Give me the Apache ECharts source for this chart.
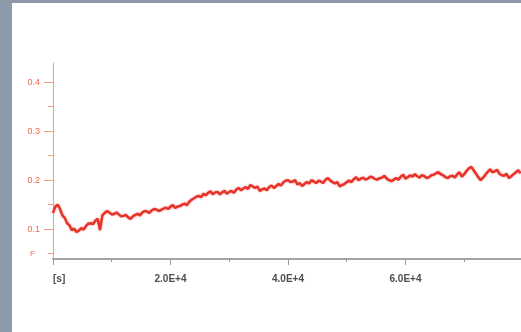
<!DOCTYPE html>
<html>
<head>
<meta charset="utf-8">
<script src="https://cdn.jsdelivr.net/npm/echarts@6/dist/echarts.min.js"></script>
<style>
  html, body { margin: 0; padding: 0; width: 521px; height: 332px; background: #8b99a8; overflow: hidden; }
  #chart { position: absolute; left: 12px; top: 3px; width: 509px; height: 329px; background: #ffffff; }
</style>
</head>
<body>
<div id="chart"></div>
<script>
// Force trace over time, sampled every 400 s
const timeSec = [
  0, 400, 800, 1200, 1600, 2000, 2400, 2800, 3200, 3600,
  4000, 4400, 4800, 5200, 5600, 6000, 6400, 6800, 7200, 7600,
  8000, 8400, 8800, 9200, 9600, 10000, 10400, 10800, 11200, 11600,
  12000, 12400, 12800, 13200, 13600, 14000, 14400, 14800, 15200, 15600,
  16000, 16400, 16800, 17200, 17600, 18000, 18400, 18800, 19200, 19600,
  20000, 20400, 20800, 21200, 21600, 22000, 22400, 22800, 23200, 23600,
  24000, 24400, 24800, 25200, 25600, 26000, 26400, 26800, 27200, 27600,
  28000, 28400, 28800, 29200, 29600, 30000, 30400, 30800, 31200, 31600,
  32000, 32400, 32800, 33200, 33600, 34000, 34400, 34800, 35200, 35600,
  36000, 36400, 36800, 37200, 37600, 38000, 38400, 38800, 39200, 39600,
  40000, 40400, 40800, 41200, 41600, 42000, 42400, 42800, 43200, 43600,
  44000, 44400, 44800, 45200, 45600, 46000, 46400, 46800, 47200, 47600,
  48000, 48400, 48800, 49200, 49600, 50000, 50400, 50800, 51200, 51600,
  52000, 52400, 52800, 53200, 53600, 54000, 54400, 54800, 55200, 55600,
  56000, 56400, 56800, 57200, 57600, 58000, 58400, 58800, 59200, 59600,
  60000, 60400, 60800, 61200, 61600, 62000, 62400, 62800, 63200, 63600,
  64000, 64400, 64800, 65200, 65600, 66000, 66400, 66800, 67200, 67600,
  68000, 68400, 68800, 69200, 69600, 70000, 70400, 70800, 71200, 71600,
  72000, 72400, 72800, 73200, 73600, 74000, 74400, 74800, 75200, 75600,
  76000, 76400, 76800, 77200, 77600, 78000, 78400, 78800, 79200, 79600
];
const force = [
  0.133, 0.146, 0.150, 0.141, 0.128, 0.123, 0.112, 0.108, 0.098, 0.101,
  0.094, 0.097, 0.102, 0.099, 0.106, 0.111, 0.112, 0.110, 0.117, 0.121,
  0.098, 0.128, 0.133, 0.137, 0.134, 0.130, 0.131, 0.134, 0.130, 0.126,
  0.127, 0.129, 0.124, 0.121, 0.126, 0.129, 0.131, 0.128, 0.134, 0.137,
  0.136, 0.133, 0.138, 0.141, 0.140, 0.137, 0.139, 0.142, 0.144, 0.141,
  0.146, 0.149, 0.143, 0.146, 0.147, 0.150, 0.152, 0.149, 0.156, 0.160,
  0.163, 0.166, 0.168, 0.165, 0.172, 0.169, 0.174, 0.177, 0.171, 0.175,
  0.176, 0.171, 0.175, 0.178, 0.172, 0.176, 0.178, 0.174, 0.181, 0.184,
  0.179, 0.183, 0.186, 0.182, 0.190, 0.187, 0.184, 0.187, 0.178, 0.181,
  0.183, 0.179, 0.186, 0.189, 0.184, 0.188, 0.192, 0.189, 0.195, 0.199,
  0.200, 0.196, 0.197, 0.200, 0.191, 0.194, 0.188, 0.192, 0.196, 0.193,
  0.200, 0.197, 0.194, 0.199, 0.197, 0.194, 0.201, 0.204, 0.199, 0.196,
  0.193, 0.196, 0.187, 0.190, 0.192, 0.196, 0.199, 0.196, 0.202, 0.206,
  0.200, 0.203, 0.205, 0.201, 0.203, 0.207, 0.206, 0.202, 0.201, 0.204,
  0.205, 0.209, 0.203, 0.200, 0.198, 0.201, 0.204, 0.201, 0.207, 0.211,
  0.203, 0.206, 0.210, 0.207, 0.212, 0.208, 0.205, 0.210, 0.208, 0.204,
  0.206, 0.210, 0.211, 0.214, 0.216, 0.212, 0.210, 0.206, 0.204, 0.208,
  0.209, 0.205, 0.212, 0.216, 0.207, 0.212, 0.219, 0.224, 0.227, 0.220,
  0.213, 0.206, 0.200, 0.205, 0.211, 0.217, 0.222, 0.216, 0.218, 0.221,
  0.213, 0.210, 0.209, 0.213, 0.204, 0.208, 0.212, 0.216, 0.220, 0.214
];
const yMajorTicks = [0.1, 0.2, 0.3, 0.4];
const yMinorTicks = [0.05, 0.15, 0.25, 0.35];
const xTickLabels = { 0: '[s]', 20000: '2.0E+4', 40000: '4.0E+4', 60000: '6.0E+4' };

const axisRed = '#f59a85';
const labelRed = '#ee6c4f';
const chart = echarts.init(document.getElementById('chart'), null, { renderer: 'canvas' });

chart.setOption({
  animation: false,
  grid: { left: 41, top: 60, right: 0, bottom: 73, containLabel: false },
  xAxis: {
    type: 'value',
    min: 0,
    max: 79660,
    interval: 20000,
    axisLine: { show: true, lineStyle: { color: '#a3a3a3', width: 2 } },
    axisTick: { show: true, length: 6, lineStyle: { color: '#9a9a9a', width: 1 } },
    minorTick: { show: true, splitNumber: 2, length: 3, lineStyle: { color: '#9a9a9a', width: 1 } },
    splitLine: { show: false },
    axisLabel: {
      show: true,
      margin: 15,
      color: '#4d4d4d',
      fontFamily: 'Liberation Sans',
      fontWeight: 'bold',
      fontSize: 10,
      alignMinLabel: 'left',
      showMaxLabel: false,
      formatter: v => xTickLabels[v] || ''
    }
  },
  yAxis: [
    {
      type: 'value',
      min: 0.039,
      max: 0.439,
      position: 'left',
      axisLine: { show: true, lineStyle: { color: axisRed, width: 1 } },
      axisTick: { show: true, length: 9, customValues: yMajorTicks, lineStyle: { color: axisRed } },
      splitLine: { show: false },
      axisLabel: {
        show: true,
        margin: 13,
        color: labelRed,
        fontFamily: 'Liberation Sans',
        fontSize: 9,
        customValues: yMajorTicks,
        formatter: v => v.toFixed(1)
      }
    },
    {
      type: 'value',
      min: 0.039,
      max: 0.439,
      position: 'left',
      axisLine: { show: false },
      axisTick: { show: true, length: 5, customValues: yMinorTicks, lineStyle: { color: axisRed } },
      splitLine: { show: false },
      axisLabel: {
        show: true,
        margin: 18,
        color: labelRed,
        fontFamily: 'Liberation Sans',
        fontSize: 8,
        customValues: [0.05],
        formatter: () => 'F'
      }
    }
  ],
  series: [{
    type: 'line',
    data: timeSec.map((t, i) => [t, force[i]]),
    showSymbol: false,
    smooth: false,
    lineStyle: { color: '#e8332b', width: 2.5, shadowColor: 'rgba(232,51,43,0.5)', shadowBlur: 2 },
    z: 3
  }]
});
</script>
</body>
</html>
